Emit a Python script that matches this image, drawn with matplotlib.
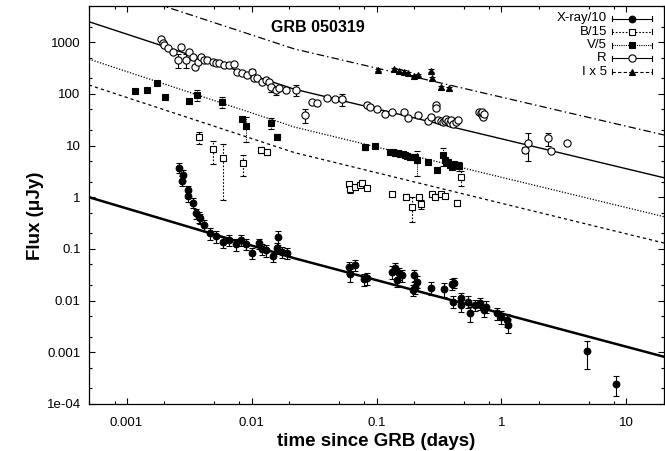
import numpy as np
import matplotlib
matplotlib.use("Agg")
import matplotlib.pyplot as plt
from matplotlib.ticker import FixedLocator, NullFormatter, FixedFormatter
from matplotlib.lines import Line2D

plt.rcParams['font.family'] = ['Liberation Sans', 'DejaVu Sans']

# ---------------- data (time in days, flux in microJy) ----------------
xray_t = [0.00261, 0.00276, 0.00281, 0.00312, 0.00312, 0.00338, 0.00359, 0.00382, 0.00389,
          0.00418, 0.00467, 0.00524, 0.00593, 0.00662, 0.00757, 0.0082, 0.00909, 0.0100,
          0.0115, 0.0122, 0.0130, 0.0148, 0.0161, 0.0164, 0.0174, 0.0193,
          0.0598, 0.0617, 0.0668, 0.0788, 0.0837, 0.132, 0.141, 0.145, 0.150, 0.159,
          0.197, 0.201, 0.203, 0.209, 0.273, 0.346, 0.403, 0.41, 0.416, 0.473, 0.473,
          0.541, 0.558, 0.611, 0.670, 0.721, 0.757, 0.926, 1.0, 1.11, 1.13, 4.8, 8.2]
xray_f = [3.74, 2.07, 2.70, 1.38, 1.06, 0.786, 0.49, 0.42, 0.39,
          0.291, 0.201, 0.178, 0.138, 0.149, 0.123, 0.149, 0.125, 0.0848,
          0.129, 0.100, 0.096, 0.073, 0.103, 0.168, 0.0887, 0.0848,
          0.0443, 0.0324, 0.049, 0.0259, 0.0271, 0.0364, 0.0423, 0.0251, 0.0339, 0.0314,
          0.0161, 0.0314, 0.0187, 0.0233, 0.0178, 0.0166, 0.0208, 0.00957, 0.0223, 0.0111, 0.00826,
          0.00957, 0.0057, 0.00826, 0.0089, 0.0066, 0.00766, 0.0057, 0.0049, 0.00423, 0.00339,
          0.00108, 0.000241]
xray_e = [0.8, 0.45, 0.6, 0.3, 0.25, 0.18, 0.11, 0.1, 0.09,
          0.07, 0.05, 0.045, 0.035, 0.035, 0.03, 0.035, 0.03, 0.02,
          0.03, 0.025, 0.025, 0.018, 0.025, 0.05, 0.022, 0.02,
          0.011, 0.009, 0.011, 0.007, 0.007, 0.01, 0.01, 0.007, 0.009, 0.008,
          0.004, 0.008, 0.005, 0.006, 0.005, 0.005, 0.005, 0.0025, 0.005, 0.003, 0.0022,
          0.0025, 0.0018, 0.002, 0.0022, 0.0017, 0.002, 0.0015, 0.0013, 0.0012, 0.001,
          0.0006, 0.0001]

b_t = [0.00382, 0.00487, 0.00596, 0.00856, 0.0118, 0.0134, 0.0598, 0.061, 0.0677, 0.0741,
       0.077, 0.0837, 0.132, 0.171, 0.194, 0.218, 0.227, 0.276, 0.293, 0.331, 0.352, 0.444, 0.473]
b_f = [14.5, 8.48, 5.68, 4.55, 8.22, 7.62, 1.81, 1.43, 1.56, 1.73,
       1.87, 1.53, 1.16, 1.03, 0.658, 1.0, 0.742, 1.14, 1.03, 1.16, 1.06, 0.786, 2.44]
b_e = [4.0, 4.0, 4.8, 2.0, 1.0, 1.0, 0.2, 0.2, 0.15, 0.15,
       0.15, 0.15, 0.12, 0.1, 0.33, 0.1, 0.15, 0.1, 0.1, 0.1, 0.1, 0.1, 0.8]

v_t = [0.00116, 0.00146, 0.00176, 0.00202, 0.00318, 0.00366, 0.00585, 0.00845, 0.00899,
       0.0144, 0.01605, 0.0803, 0.0964, 0.1285, 0.135, 0.141, 0.148, 0.1545, 0.162, 0.169,
       0.177, 0.185, 0.195, 0.203, 0.212, 0.256, 0.305, 0.342, 0.352, 0.363, 0.375, 0.386,
       0.403, 0.420, 0.459]
v_f = [114, 118.8, 160, 88.3, 73.8, 95.2, 70.6, 32.3, 23.9,
       27.7, 14.9, 9.27, 9.82, 7.62, 7.45, 7.29, 7.05, 6.88, 6.75, 6.58,
       6.35, 6.10, 6.0, 5.94, 5.27, 4.89, 3.37, 6.58, 5.27, 4.55, 4.9, 4.22,
       3.91, 4.3, 4.08]
v_e = [10, 10, 14, 8, 6, 22, 17, 3, 12,
       7, 1.5, 1.0, 1.0, 0.5, 0.5, 0.5, 0.5, 0.5, 0.5, 0.5,
       0.5, 0.5, 0.5, 0.5, 2.7, 0.4, 0.3, 2.5, 0.4, 0.4, 0.4, 0.4,
       0.3, 0.4, 0.8]

r_t = [0.00189, 0.00195, 0.00201, 0.00213, 0.00234, 0.00256, 0.00273, 0.00299, 0.00318, 0.00338,
       0.00355, 0.0037, 0.00394, 0.00418, 0.00444, 0.00487, 0.00518, 0.00551, 0.00604, 0.00662,
       0.00725, 0.00771, 0.00845, 0.00926, 0.01015, 0.01047, 0.0111, 0.0122, 0.0130, 0.0138,
       0.0142, 0.0156, 0.0166, 0.0187, 0.0225, 0.027, 0.0305, 0.0334, 0.0402, 0.0463,
       0.0529, 0.0837, 0.0891, 0.1006, 0.117, 0.132, 0.167, 0.180, 0.216, 0.260,
       0.273, 0.299, 0.299, 0.312, 0.331, 0.340, 0.352, 0.362, 0.375, 0.385, 0.398,
       0.41, 0.43, 0.45, 0.66, 0.683, 0.695, 0.705, 0.714, 0.73,
       1.53, 1.63, 2.35, 2.49, 3.34]
r_f = [1138, 978, 883, 762, 655, 453, 818, 453, 655, 524,
       336, 420, 524, 453, 453, 420, 391, 391, 362, 362,
       374, 269, 250, 232, 269, 200, 200, 172, 186, 172,
       138, 119, 128, 119, 119, 39.1, 70.7, 67.6, 82.2, 78.6,
       78.6, 61.0, 56.5, 50.3, 40.8, 45.3, 45.3, 33.7, 39.1, 30.3,
       36.2, 61.0, 52.7, 31.3, 30.3, 28.5, 30.3, 32.0, 29.9, 27.3, 30.5,
       26.2, 28.4, 31.3, 44.0, 42.2, 39.5, 45.0, 36.2, 40.5,
       8.22, 11.1, 13.8, 7.97, 11.4]
r_e = [90, 80, 70, 60, 50, 130, 60, 130, 50, 40,
       30, 35, 40, 35, 35, 30, 30, 30, 28, 28,
       28, 20, 20, 18, 40, 15, 15, 13, 14, 13,
       30, 25, 10, 10, 30, 12, 5, 5, 6, 6,
       20, 5, 4, 4, 3, 3.5, 3.5, 2.5, 3, 2.5,
       3, 5, 4, 2.5, 2.5, 2.2, 2.5, 2.5, 2.5, 2.2, 2.5,
       2, 2.2, 2.5, 3.5, 3, 3, 3.5, 3, 3,
       1, 6, 4, 0.8, 0.9]

i_t = [0.102, 0.137, 0.150, 0.167, 0.180, 0.201, 0.216, 0.273, 0.279, 0.331, 0.379]
i_f = [290, 299, 281, 269, 250, 222, 232, 281, 200, 134, 128]
i_e = [18, 18, 17, 16, 15, 14, 14, 20, 14, 10, 10]

# model light curves (broken power laws through knots)
model_t = [0.0005, 0.022, 20]
r_model = [2480, 123, 2.38]
i_model = [14880, 738, 16.0]
v_model = [470, 22.8, 0.42]
b_model = [148, 7.3, 0.13]
xray_model = [1.0, 0.066, 0.00082]

x_ticks = [0.001, 0.01, 0.1, 1, 10]
x_tick_labels = ['0.001', '0.01', '0.1', '1', '10']
y_ticks = [1e-4, 1e-3, 1e-2, 1e-1, 1, 10, 100, 1000]
y_tick_labels = ['1e-04', '0.001', '0.01', '0.1', '1', '10', '100', '1000']

# ---------------- figure ----------------
W, H = 665, 451
fig = plt.figure(figsize=(W / 100, H / 100), dpi=100)
L, R, B, T = 89, 664, 404, 6
ax = fig.add_axes([L / W, (H - B) / H, (R - L) / W, (B - T) / H])
ax.set_xscale('log')
ax.set_yscale('log')
ax.set_xlim(0.0005, 20)
ax.set_ylim(1e-4, 5000)

# model lines
ax.plot(model_t, i_model, color='k', lw=0.9, ls=(0, (6, 2.5, 1.2, 2.5)), zorder=2)
ax.plot(model_t, r_model, color='k', lw=1.0, ls='-', zorder=2)
ax.plot(model_t, v_model, color='k', lw=0.9, ls=(0, (1, 1.3)), zorder=2)
ax.plot(model_t, b_model, color='k', lw=0.9, ls=(0, (2.5, 2.5)), zorder=2)
ax.plot(model_t, xray_model, color='k', lw=1.8, ls='-', zorder=2)

styles = {
    'xray': dict(marker='o', ms=4.8, mfc='k', ls='-'),
    'b': dict(marker='s', ms=4.6, mfc='white', ls=(0, (1.5, 1.5))),
    'v': dict(marker='s', ms=4.6, mfc='k', ls=(0, (1, 1))),
    'r': dict(marker='o', ms=5.2, mfc='white', ls='-'),
    'i': dict(marker='^', ms=4.6, mfc='k', ls=(0, (3, 2))),
}


def draw(t, f, e, st):
    cont = ax.errorbar(t, f, yerr=e, fmt='none', ecolor='k', elinewidth=0.8,
                       capsize=2.5, capthick=0.8, zorder=3)
    for lc in cont[2]:
        lc.set_linestyle(st['ls'])
    ax.plot(t, f, ls='none', marker=st['marker'], ms=st['ms'], mfc=st['mfc'],
            mec='k', mew=0.8, zorder=4)


draw(r_t, r_f, r_e, styles['r'])
draw(b_t, b_f, b_e, styles['b'])
draw(v_t, v_f, v_e, styles['v'])
draw(i_t, i_f, i_e, styles['i'])
draw(xray_t, xray_f, xray_e, styles['xray'])

# ticks
ax.xaxis.set_major_locator(FixedLocator(x_ticks))
ax.xaxis.set_major_formatter(FixedFormatter(x_tick_labels))
ax.xaxis.set_minor_locator(FixedLocator([m * 10.0 ** k for k in range(-4, 2) for m in (2, 5, 8)]))
ax.xaxis.set_minor_formatter(NullFormatter())
ax.yaxis.set_major_locator(FixedLocator(y_ticks))
ax.yaxis.set_major_formatter(FixedFormatter(y_tick_labels))
ax.yaxis.set_minor_locator(FixedLocator([m * 10.0 ** k for k in range(-4, 4) for m in (2, 5)]))
ax.yaxis.set_minor_formatter(NullFormatter())
ax.tick_params(which='both', direction='in', top=True, right=True, width=0.8, colors='k')
ax.tick_params(which='major', length=4.5, labelsize=9.5)
ax.tick_params(which='minor', length=2.5)
ax.tick_params(axis='y', pad=6)
ax.tick_params(axis='x', pad=9)
for s in ax.spines.values():
    s.set_linewidth(0.9)

# labels
fig.text(376 / W, 1 - 442 / H, 'time since GRB (days)', ha='center', va='center',
         fontsize=13.5, fontweight='bold')
fig.text(36 / W, 1 - 216 / H, 'Flux (μJy)', ha='center', va='center', rotation=90,
         fontsize=13.5, fontweight='bold')
fig.text(318 / W, 1 - 27 / H, 'GRB 050319', ha='center', va='center',
         fontsize=11.5, fontweight='bold')

# legend (gnuplot-like key)
names = ['X-ray/10', 'B/15', 'V/5', 'R', 'I x 5']
keys = ['xray', 'b', 'v', 'r', 'i']
tr = fig.transFigure
for k, (name, key) in enumerate(zip(names, keys)):
    ypx = 18.5 + 13.3 * k
    yf = 1 - ypx / H
    st = styles[key]
    fig.text(607 / W, yf, name, ha='right', va='center', fontsize=9.5)
    fig.add_artist(Line2D([612 / W, 652 / W], [yf, yf], transform=tr, color='k',
                          lw=0.8, ls=st['ls']))
    for xe in (612, 652):
        fig.add_artist(Line2D([xe / W, xe / W], [yf - 2.5 / H, yf + 2.5 / H], transform=tr,
                              color='k', lw=0.8))
    fig.add_artist(Line2D([632 / W], [yf], transform=tr, ls='none', marker=st['marker'],
                          ms=st['ms'], mfc=st['mfc'], mec='k', mew=0.8))

fig.savefig('out.png', dpi=100)
